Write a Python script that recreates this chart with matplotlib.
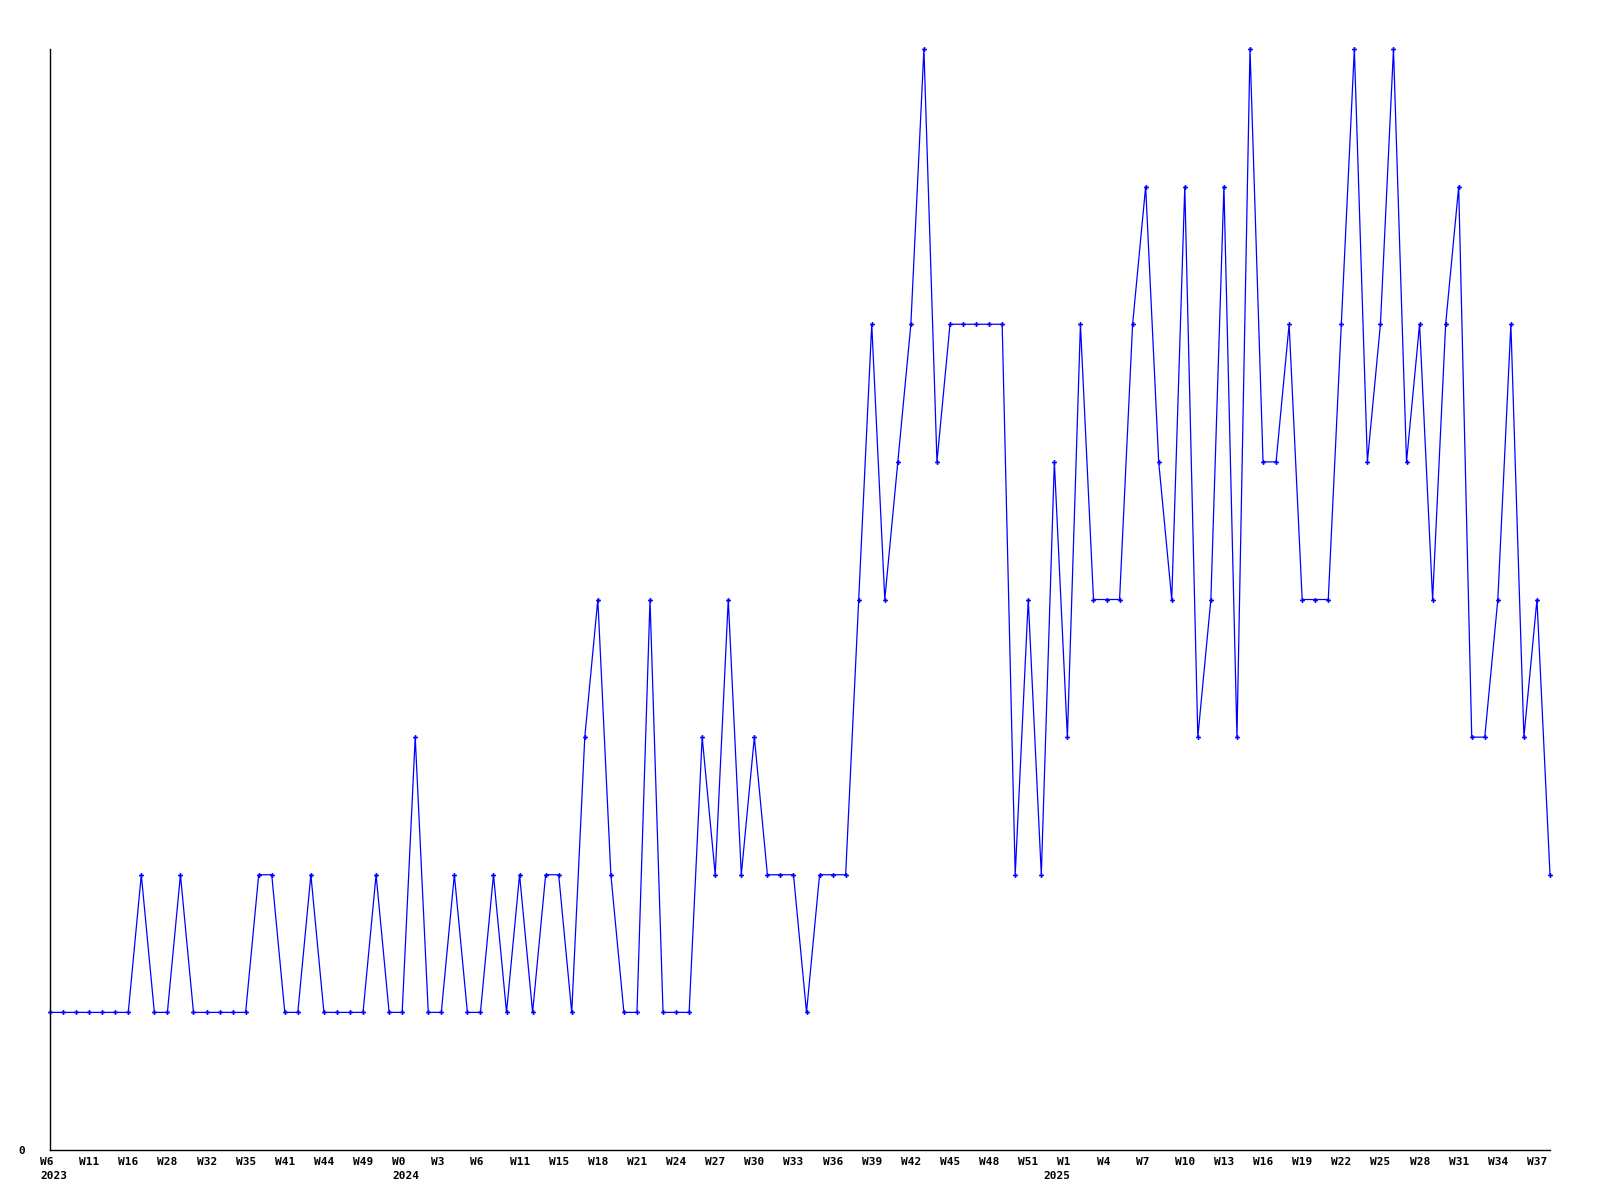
import matplotlib
matplotlib.use("Agg")
import matplotlib.pyplot as plt
from matplotlib.transforms import ScaledTranslation

# weekly counts, one value per point
values = [1, 1, 1, 1, 1, 1, 1, 2, 1, 1, 2, 1, 1, 1, 1, 1, 2, 2, 1, 1,
          2, 1, 1, 1, 1, 2, 1, 1, 3, 1, 1, 2, 1, 1, 2, 1, 2, 1, 2, 2,
          1, 3, 4, 2, 1, 1, 4, 1, 1, 1, 3, 2, 4, 2, 3, 2, 2, 2, 1, 2,
          2, 2, 4, 6, 4, 5, 6, 8, 5, 6, 6, 6, 6, 6, 2, 4, 2, 5, 3, 6,
          4, 4, 4, 6, 7, 5, 4, 7, 3, 4, 7, 3, 8, 5, 5, 6, 4, 4, 4, 6,
          8, 5, 6, 8, 5, 6, 4, 6, 7, 3, 3, 4, 6, 3, 4, 2]

# a label every third point
tick_labels = ["W6\n2023", "W11", "W16", "W28", "W32", "W35", "W41", "W44", "W49",
               "W0\n2024", "W3", "W6", "W11", "W15", "W18", "W21", "W24", "W27",
               "W30", "W33", "W36", "W39", "W42", "W45", "W48", "W51",
               "W1\n2025", "W4", "W7", "W10", "W13", "W16", "W19", "W22", "W25",
               "W28", "W31", "W34", "W37"]
tick_step = 3

blue = "#0000ff"

fig = plt.figure(figsize=(16, 12), dpi=100)
ax = fig.add_axes([50 / 1600, 50 / 1200, 1500 / 1600, 1101 / 1200])

x = list(range(len(values)))
ax.plot(x, values, color=blue, linewidth=0.9, marker="P", markersize=3.5,
        markeredgewidth=0, clip_on=False)

ax.set_xlim(0, len(values) - 1)
ax.set_ylim(0, 8)

for side in ["top", "right"]:
    ax.spines[side].set_visible(False)
for side in ["left", "bottom"]:
    ax.spines[side].set_color("black")
    ax.spines[side].set_linewidth(1.0)

font = dict(family="DejaVu Sans Mono", weight="bold", size=8)

ax.set_xticks(list(range(0, len(values), tick_step))[:len(tick_labels)])
ax.set_xticklabels(tick_labels, linespacing=1.45, **font)
ax.tick_params(axis="x", length=0, pad=5)
left_shift = ScaledTranslation(-10 / 100, 0, fig.dpi_scale_trans)
right_shift = ScaledTranslation(3 / 100, 0, fig.dpi_scale_trans)
for lab in ax.get_xticklabels():
    if lab.get_text().startswith("W1\n"):
        # the 2025 year sits right-aligned under W1
        lab.set_horizontalalignment("right")
        lab.set_multialignment("right")
        lab.set_transform(lab.get_transform() + right_shift)
    else:
        lab.set_horizontalalignment("left")
        lab.set_multialignment("left")
        lab.set_transform(lab.get_transform() + left_shift)

ax.set_yticks([0])
ax.set_yticklabels(["0"], **font)
ax.tick_params(axis="y", length=0, pad=18)

fig.savefig("out.png", dpi=100)
